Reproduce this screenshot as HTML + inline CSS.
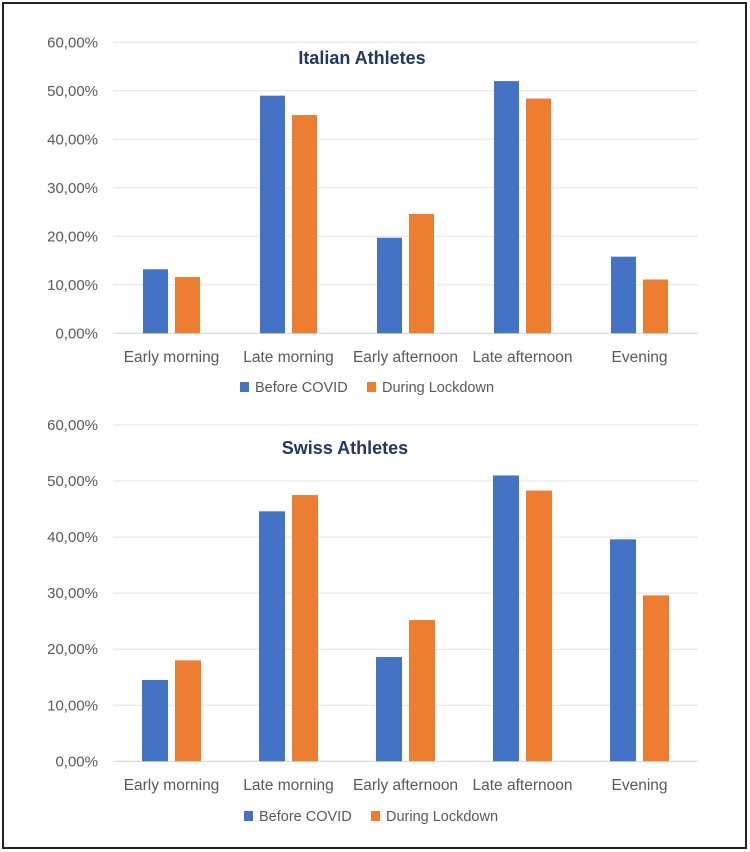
<!DOCTYPE html>
<html><head><meta charset="utf-8"><style>
html,body{margin:0;padding:0;background:#fff;}
svg{display:block;font-family:"Liberation Sans",sans-serif;}
</style></head><body>
<svg id="c" width="750" height="852" xmlns="http://www.w3.org/2000/svg">
<rect x="3" y="3" width="743" height="845" fill="#fff" stroke="#222" stroke-width="2"/>
</svg>
<script>
const categories = ["Early morning","Late morning","Early afternoon","Late afternoon","Evening"];
const italianBefore = [13.2, 49.0, 19.7, 52.0, 15.8];
const italianDuring = [11.6, 45.0, 24.6, 48.4, 11.1];
const swissBefore = [14.5, 44.6, 18.6, 51.0, 39.6];
const swissDuring = [18.0, 47.5, 25.2, 48.3, 29.6];
const tickValues = [0,10,20,30,40,50,60];
const tickLabels = ["0,00%","10,00%","20,00%","30,00%","40,00%","50,00%","60,00%"];
const seriesNames = ["Before COVID","During Lockdown"];

const NS="http://www.w3.org/2000/svg";
const svg=document.getElementById('c');
function mk(tag,attrs,text){const e=document.createElementNS(NS,tag);for(const k in attrs)e.setAttribute(k,attrs[k]);if(text!=null)e.textContent=text;svg.appendChild(e);return e;}
const colors=["#4472c4","#ed7d31"];

function chart(prefix,title,titleX,titleY,y0,y60,bw,gap,blue,orange,labelY,legendY,legendX){
  const xl=113,xr=698,max=60;
  const y=v=>y0-(v/max)*(y0-y60);
  const cw=(xr-xl)/categories.length;
  tickValues.forEach((t,i)=>{
    const l=mk('line',{x1:xl,x2:xr,y1:y(t),y2:y(t),stroke:i===0?'#d0d0d0':'#e3e3e3','stroke-width':1});
    
    
    const tx=mk('text',{x:98,y:y(t)+5,'text-anchor':'end','font-size':15,fill:'#595959'},tickLabels[i]);
    
    
  });
  const series=[blue,orange];
  categories.forEach((c,i)=>{
    const cx=xl+cw*(i+0.5);
    series.forEach((s,j)=>{
      const x=j===0?cx-gap/2-bw:cx+gap/2;
      const r=mk('rect',{x:x,y:y(s[i]),width:bw,height:y0-y(s[i]),fill:colors[j]});
      
      
    });
    const t=mk('text',{x:cx,y:labelY,'text-anchor':'middle','font-size':15.5,fill:'#595959'},c);
    
    
  });
  const tt=mk('text',{x:titleX,y:titleY,'text-anchor':'middle','font-size':18,'font-weight':'bold',fill:'#1f3864'},title);
  
  
  let lx=legendX;
  seriesNames.forEach((n,j)=>{
    const sw=mk('rect',{x:lx,y:legendY-10,width:9,height:10,fill:colors[j]});
    
    
    const lt=mk('text',{x:lx+15,y:legendY,'font-size':14.5,fill:'#595959'},n);
    
    
    lx+=j===0?127:0;
  });
}
chart('italian','Italian Athletes',362,64,333.3,42.3,25,7,italianBefore,italianDuring,362,392,240);
chart('swiss','Swiss Athletes',345,454,761.3,425,26,7,swissBefore,swissDuring,790,821,244);
</script>
</body></html>
